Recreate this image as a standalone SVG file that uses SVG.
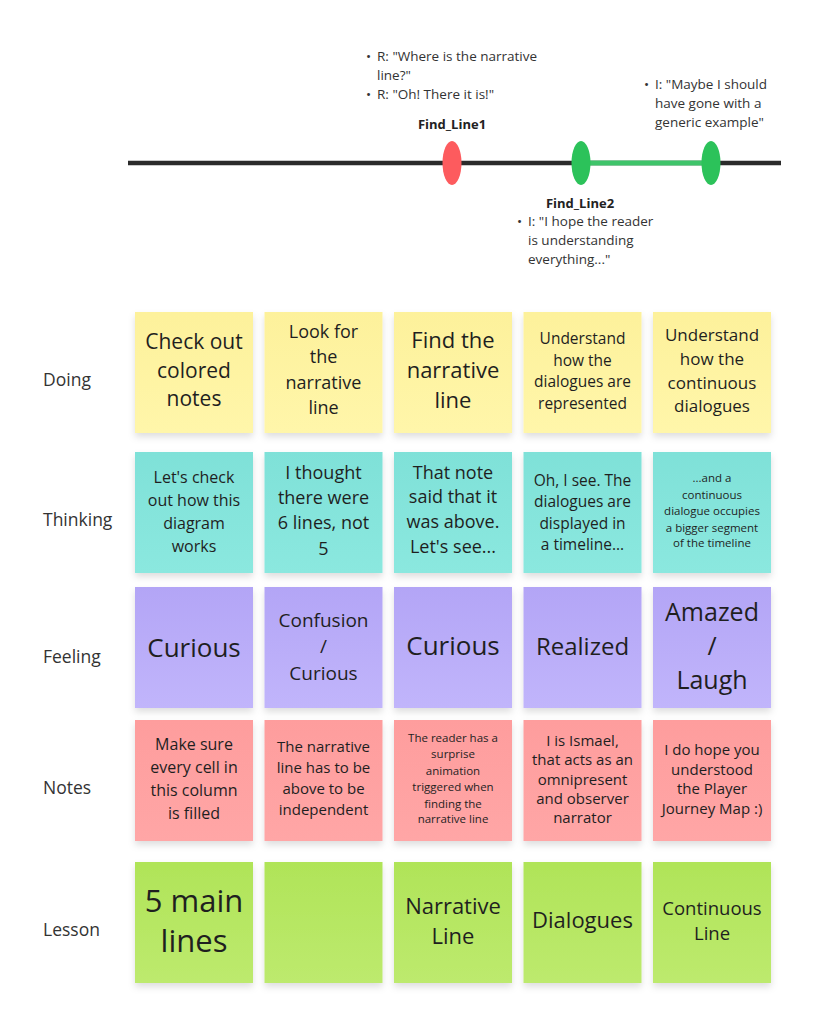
<svg xmlns="http://www.w3.org/2000/svg" width="825" height="1024" viewBox="0 0 825 1024">
<defs>
<filter id="sh" x="-20%" y="-20%" width="140%" height="150%">
<feDropShadow dx="0" dy="4" stdDeviation="3.5" flood-color="#000" flood-opacity="0.13"/>
</filter>
<linearGradient id="gY" x1="0" y1="0" x2="0" y2="1"><stop offset="0" stop-color="#fdf19b"/><stop offset="1" stop-color="#fff6aa"/></linearGradient>
<linearGradient id="gT" x1="0" y1="0" x2="0" y2="1"><stop offset="0" stop-color="#7fe1d8"/><stop offset="1" stop-color="#8be8df"/></linearGradient>
<linearGradient id="gP" x1="0" y1="0" x2="0" y2="1"><stop offset="0" stop-color="#b3a5f6"/><stop offset="1" stop-color="#c1b5fb"/></linearGradient>
<linearGradient id="gR" x1="0" y1="0" x2="0" y2="1"><stop offset="0" stop-color="#fe9d9d"/><stop offset="1" stop-color="#ffa6a6"/></linearGradient>
<linearGradient id="gG" x1="0" y1="0" x2="0" y2="1"><stop offset="0" stop-color="#b0e458"/><stop offset="1" stop-color="#bdea6e"/></linearGradient>
</defs>
<style>
text{font-family:"Open Sans","Noto Sans","Liberation Sans",sans-serif;fill:#1f1f1f}
.n{text-anchor:middle}
.lbl{font-size:17.5px;fill:#333}
.tl{font-size:13.5px;fill:#333}
.b{font-size:13px;font-weight:bold;fill:#222;text-anchor:middle}
.note{filter:url(#sh)}
.y{fill:url(#gY)}.t{fill:url(#gT)}.p{fill:url(#gP)}.r{fill:url(#gR)}.g{fill:url(#gG)}
</style>
<rect width="825" height="1024" fill="#ffffff"/>

<g id="connectors">
<line x1="128" y1="163" x2="781" y2="163" stroke="#2b2b2b" stroke-width="4.5"/>
<line x1="581" y1="163" x2="711" y2="163" stroke="#3fc46a" stroke-width="5"/>
</g>

<g id="find_line1">
<ellipse cx="452" cy="163" rx="9.5" ry="22" fill="#fd5b5e"/>
<text class="b" x="452" y="129">Find_Line1</text>
<text class="tl" x="366" y="61">•</text>
<text class="tl" x="377" y="61">R: "Where is the narrative</text>
<text class="tl" x="377" y="80">line?"</text>
<text class="tl" x="366" y="99">•</text>
<text class="tl" x="377" y="99">R: "Oh! There it is!"</text>
</g>

<g id="find_line2">
<ellipse cx="581" cy="163" rx="9.5" ry="22" fill="#2cc25a"/>
<ellipse cx="711" cy="163" rx="9.5" ry="22" fill="#2cc25a"/>
<text class="b" x="580" y="208">Find_Line2</text>
<text class="tl" x="517" y="226">•</text>
<text class="tl" x="528" y="226">I: "I hope the reader</text>
<text class="tl" x="528" y="245">is understanding</text>
<text class="tl" x="528" y="264">everything..."</text>
<text class="tl" x="644" y="89">•</text>
<text class="tl" x="655" y="89">I: "Maybe I should</text>
<text class="tl" x="655" y="108">have gone with a</text>
<text class="tl" x="655" y="127">generic example"</text>
</g>

<g id="row_labels">
<text class="lbl" x="43" y="386">Doing</text>
<text class="lbl" x="43" y="526">Thinking</text>
<text class="lbl" x="43" y="663">Feeling</text>
<text class="lbl" x="43" y="794">Notes</text>
<text class="lbl" x="43" y="936">Lesson</text>
</g>

<!-- Doing row -->
<g id="doing_1"><rect class="note y" x="135" y="312" width="118" height="121"/>
<text class="n" x="194" font-size="21"><tspan x="194" y="349">Check out</tspan><tspan x="194" y="378">colored</tspan><tspan x="194" y="406">notes</tspan></text></g>
<g id="doing_2"><rect class="note y" x="264.5" y="312" width="118" height="121"/>
<text class="n" font-size="18"><tspan x="323.5" y="338">Look for</tspan><tspan x="323.5" y="363">the</tspan><tspan x="323.5" y="389">narrative</tspan><tspan x="323.5" y="414">line</tspan></text></g>
<g id="doing_3"><rect class="note y" x="394" y="312" width="118" height="121"/>
<text class="n" font-size="22"><tspan x="453" y="348">Find the</tspan><tspan x="453" y="378">narrative</tspan><tspan x="453" y="408">line</tspan></text></g>
<g id="doing_4"><rect class="note y" x="523.5" y="312" width="118" height="121"/>
<text class="n" font-size="15.5"><tspan x="582.5" y="343.5">Understand</tspan><tspan x="582.5" y="365.5">how the</tspan><tspan x="582.5" y="386.5">dialogues are</tspan><tspan x="582.5" y="408.5">represented</tspan></text></g>
<g id="doing_5"><rect class="note y" x="653" y="312" width="118" height="121"/>
<text class="n" font-size="17"><tspan x="712" y="341">Understand</tspan><tspan x="712" y="365">how the</tspan><tspan x="712" y="389">continuous</tspan><tspan x="712" y="412">dialogues</tspan></text></g>

<!-- Thinking row -->
<g id="thinking_1"><rect class="note t" x="135" y="452" width="118" height="121"/>
<text class="n" font-size="16"><tspan x="194" y="483">Let's check</tspan><tspan x="194" y="506">out how this</tspan><tspan x="194" y="529">diagram</tspan><tspan x="194" y="552">works</tspan></text></g>
<g id="thinking_2"><rect class="note t" x="264.5" y="452" width="118" height="121"/>
<text class="n" font-size="18"><tspan x="323.5" y="479">I thought</tspan><tspan x="323.5" y="504">there were</tspan><tspan x="323.5" y="529">6 lines, not</tspan><tspan x="323.5" y="555">5</tspan></text></g>
<g id="thinking_3"><rect class="note t" x="394" y="452" width="118" height="121"/>
<text class="n" font-size="18"><tspan x="453" y="479">That note</tspan><tspan x="453" y="503">said that it</tspan><tspan x="453" y="528">was above.</tspan><tspan x="453" y="553">Let's see...</tspan></text></g>
<g id="thinking_4"><rect class="note t" x="523.5" y="452" width="118" height="121"/>
<text class="n" font-size="15.5"><tspan x="582.5" y="485.5">Oh, I see. The</tspan><tspan x="582.5" y="506.5">dialogues are</tspan><tspan x="582.5" y="528.5">displayed in</tspan><tspan x="582.5" y="549.5">a timeline...</tspan></text></g>
<g id="thinking_5"><rect class="note t" x="653" y="452" width="118" height="121"/>
<text class="n" font-size="11.5"><tspan x="712" y="482">...and a</tspan><tspan x="712" y="499">continuous</tspan><tspan x="712" y="515">dialogue occupies</tspan><tspan x="712" y="532">a bigger segment</tspan><tspan x="712" y="547">of the timeline</tspan></text></g>

<!-- Feeling row -->
<g id="feeling_1"><rect class="note p" x="135" y="587" width="118" height="121"/>
<text class="n" x="194" y="657" font-size="26">Curious</text></g>
<g id="feeling_2"><rect class="note p" x="264.5" y="587" width="118" height="121"/>
<text class="n" font-size="19"><tspan x="323.5" y="627">Confusion</tspan><tspan x="323.5" y="653">/</tspan><tspan x="323.5" y="680">Curious</tspan></text></g>
<g id="feeling_3"><rect class="note p" x="394" y="587" width="118" height="121"/>
<text class="n" x="453" y="655" font-size="26">Curious</text></g>
<g id="feeling_4"><rect class="note p" x="523.5" y="587" width="118" height="121"/>
<text class="n" x="582.5" y="655" font-size="24">Realized</text></g>
<g id="feeling_5"><rect class="note p" x="653" y="587" width="118" height="121"/>
<text class="n" font-size="25"><tspan x="712" y="621">Amazed</tspan><tspan x="712" y="655">/</tspan><tspan x="712" y="689">Laugh</tspan></text></g>

<!-- Notes row -->
<g id="notes_1"><rect class="note r" x="135" y="720" width="118" height="121"/>
<text class="n" font-size="16"><tspan x="194" y="750">Make sure</tspan><tspan x="194" y="773">every cell in</tspan><tspan x="194" y="796">this column</tspan><tspan x="194" y="819">is filled</tspan></text></g>
<g id="notes_2"><rect class="note r" x="264.5" y="720" width="118" height="121"/>
<text class="n" font-size="15"><tspan x="323.5" y="752">The narrative</tspan><tspan x="323.5" y="773">line has to be</tspan><tspan x="323.5" y="794">above to be</tspan><tspan x="323.5" y="815">independent</tspan></text></g>
<g id="notes_3"><rect class="note r" x="394" y="720" width="118" height="121"/>
<text class="n" font-size="11.5"><tspan x="453" y="742">The reader has a</tspan><tspan x="453" y="758">surprise</tspan><tspan x="453" y="775">animation</tspan><tspan x="453" y="791">triggered when</tspan><tspan x="453" y="808">finding the</tspan><tspan x="453" y="823">narrative line</tspan></text></g>
<g id="notes_4"><rect class="note r" x="523.5" y="720" width="118" height="121"/>
<text class="n" font-size="15"><tspan x="582.5" y="746">I is Ismael,</tspan><tspan x="582.5" y="765">that acts as an</tspan><tspan x="582.5" y="785">omnipresent</tspan><tspan x="582.5" y="804">and observer</tspan><tspan x="582.5" y="823">narrator</tspan></text></g>
<g id="notes_5"><rect class="note r" x="653" y="720" width="118" height="121"/>
<text class="n" font-size="15"><tspan x="712" y="755">I do hope you</tspan><tspan x="712" y="775">understood</tspan><tspan x="712" y="794">the Player</tspan><tspan x="712" y="814">Journey Map :)</tspan></text></g>

<!-- Lesson row -->
<g id="lesson_1"><rect class="note g" x="135" y="862" width="118" height="121"/>
<text class="n" font-size="31"><tspan x="194" y="912">5 main</tspan><tspan x="194" y="952">lines</tspan></text></g>
<g id="lesson_2"><rect class="note g" x="264.5" y="862" width="118" height="121"/></g>
<g id="lesson_3"><rect class="note g" x="394" y="862" width="118" height="121"/>
<text class="n" font-size="22"><tspan x="453" y="914">Narrative</tspan><tspan x="453" y="944">Line</tspan></text></g>
<g id="lesson_4"><rect class="note g" x="523.5" y="862" width="118" height="121"/>
<text class="n" x="582.5" y="928" font-size="22">Dialogues</text></g>
<g id="lesson_5"><rect class="note g" x="653" y="862" width="118" height="121"/>
<text class="n" font-size="18.5"><tspan x="712" y="915">Continuous</tspan><tspan x="712" y="940">Line</tspan></text></g>
</svg>
